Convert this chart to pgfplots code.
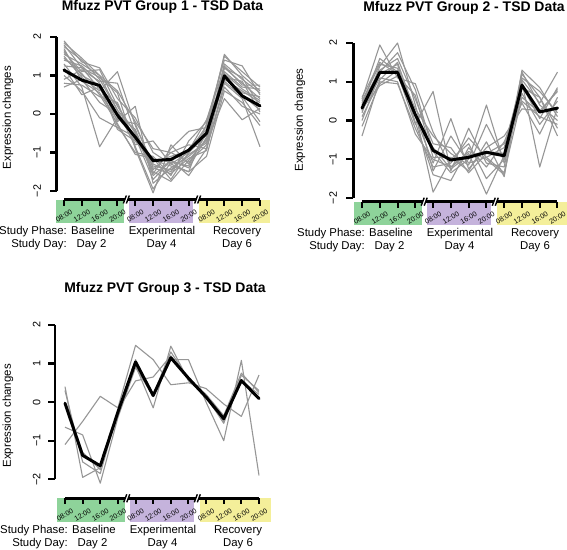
\documentclass[border=0pt]{standalone}
\usepackage{fontspec}
\setmainfont{Liberation Sans}
\usepackage{pgfplots}
\usepackage{pgfplotstable}
\pgfplotsset{compat=1.18}
\definecolor{bgreen}{RGB}{142,211,154}
\definecolor{bpurple}{RGB}{197,179,220}
\definecolor{byellow}{RGB}{244,239,154}
\definecolor{lgray}{RGB}{150,150,150}

\pgfplotstableread{
t L1 L2 L3 L4 L5 L6 L7 L8 L9 L10 L11 L12 L13 L14 L15 L16 L17 L18 M
0 1.90 1.75 1.60 1.50 1.40 1.30 1.80 1.20 0.80 1.65 0.70 1.55 1.00 1.85 1.45 0.90 1.70 1.25 1.14
1 1.35 1.40 1.10 0.95 1.25 0.70 1.20 0.50 0.75 1.00 0.90 1.30 0.60 1.45 1.05 1.15 0.85 1.20 0.88
2 1.20 0.90 1.15 0.60 0.80 -0.85 0.95 0.70 0.45 0.75 0.30 1.00 -0.10 1.00 0.50 0.85 0.55 0.65 0.74
3 0.40 0.10 0.20 1.10 -0.20 -0.10 0.55 -0.30 0.30 -0.40 0.00 0.60 -0.35 0.10 -0.25 0.80 -0.15 0.25 -0.03
4 -0.10 -0.45 -0.50 -0.30 0.20 -0.60 -0.90 -1.00 -0.80 -0.70 -0.40 -0.20 -0.60 -0.85 -1.05 -0.50 -0.25 -0.70 -0.60
5 -1.00 -1.60 -1.45 -1.30 -1.80 -1.70 -2.05 -1.10 -0.70 -1.25 -1.50 -0.90 -1.35 -1.95 -1.15 -1.55 -1.40 -1.20 -1.21
6 -1.30 -1.20 -1.00 -1.50 -1.40 -1.20 -0.80 -1.60 -1.30 -1.10 -1.75 -1.00 -1.45 -1.25 -1.70 -0.90 -1.55 -1.35 -1.18
7 -1.00 -1.40 -1.25 -0.90 -1.10 -1.60 -1.30 -0.70 -1.50 -0.95 -1.20 -0.80 -1.05 -1.35 -1.00 -0.45 -1.15 -1.50 -0.94
8 -0.30 -0.60 -0.80 -0.40 -0.70 -0.90 -0.50 -0.20 -1.10 -0.15 -0.65 -0.90 -0.75 -0.45 -0.55 -0.35 -0.95 -0.25 -0.50
9 1.50 1.30 1.20 1.10 0.90 0.80 1.00 1.40 0.60 1.20 0.95 0.70 0.40 1.55 1.05 0.85 1.25 0.95 0.99
10 1.10 0.90 0.80 0.70 0.60 0.40 0.50 1.25 0.30 0.95 0.55 0.20 -0.15 1.00 0.65 0.45 0.75 0.85 0.47
11 0.70 0.55 0.40 0.65 0.30 -0.85 0.10 0.50 -0.30 0.20 0.45 0.00 0.15 0.60 0.35 -0.20 0.75 0.05 0.21
}\groupone

\pgfplotstableread{
t L1 L2 L3 L4 L5 L6 L7 L8 L9 L10 L11 L12 L13 M
0 0.55 0.20 -0.40 0.60 0.35 -0.15 0.25 0.45 0.10 0.50 0.00 0.30 0.40 0.32
1 1.95 1.40 1.05 1.50 1.25 0.95 1.10 1.30 1.00 1.45 1.20 0.90 1.60 1.24
2 1.10 2.00 1.50 1.20 1.75 1.30 1.00 1.60 0.95 1.35 1.45 1.15 1.25 1.24
3 0.95 0.40 0.20 -0.10 0.80 0.10 -0.35 0.55 -0.20 0.30 -0.05 0.65 0.15 0.15
4 -0.30 -1.30 -1.85 0.75 -0.80 -1.10 -1.00 -0.60 -1.20 -0.40 -1.40 -0.95 -0.70 -0.77
5 -1.20 -0.40 -1.00 -1.30 -1.35 0.05 -1.20 -0.70 -1.10 -0.85 -1.55 -0.95 -1.25 -1.02
6 -0.80 -1.10 -0.60 -0.20 -1.00 -1.25 -0.85 -1.35 -0.45 -1.15 -0.70 -1.30 -0.90 -0.95
7 -1.00 -0.95 -1.50 -1.10 0.40 -0.70 -1.90 -0.85 -0.95 -0.10 -1.20 -0.55 -0.80 -0.82
8 -1.40 -0.70 -1.00 -1.20 -1.10 -0.40 -0.90 -0.60 -1.35 -1.00 -0.55 -1.45 -0.85 -0.91
9 1.30 1.05 0.90 1.20 0.70 0.30 1.00 0.85 0.60 1.25 0.45 1.10 0.50 0.91
10 0.85 0.45 0.05 0.60 -0.10 0.25 -1.20 0.60 0.20 0.40 -0.35 0.75 0.10 0.22
11 0.10 1.25 0.85 -0.20 0.50 0.75 0.35 -0.40 0.80 0.00 0.60 0.20 -0.10 0.32
}\grouptwo

\pgfplotstableread{
t L1 L2 L3 L4 L5 M
0 0.40 0.30 -0.65 -1.10 0.00 -0.03
1 -1.95 -1.55 -0.85 -0.50 -1.30 -1.38
2 -1.70 -1.85 -2.10 0.15 -1.75 -1.65
3 -0.30 -0.25 -0.40 -0.15 -0.20 -0.26
4 0.95 1.10 0.90 1.47 0.55 1.04
5 -0.15 0.20 0.15 1.10 0.65 0.17
6 1.45 1.30 1.10 0.45 1.20 1.15
7 0.55 0.60 1.10 0.50 0.60 0.62
8 0.15 0.10 0.00 0.35 0.20 0.13
9 -0.55 -0.50 -1.00 -0.05 -0.35 -0.43
10 0.70 0.55 1.08 -0.37 0.75 0.56
11 0.30 0.20 -1.90 0.70 0.25 0.09
}\groupthree

\pgfplotsset{
  panel/.style={scale only axis, anchor=south west, xmin=0, xmax=11, ymin=-2, ymax=2,
    hide axis, clip=false},
  gline/.style={lgray, line width=1.1bp, line join=round},
  mline/.style={black, line width=3bp, line join=round, line cap=round},
}

% x-axis decoration: #1 x0 px, #2 axis line y px, #3 px per step
\newcommand{\xdecor}[3]{%
\begin{scope}[shift={(#1,#2)}]
  \fill[bgreen] (-8,0) rectangle (60,23.5);
  \fill[bpurple] (65,0) rectangle (129,23.5);
  \fill[byellow] (135,0) rectangle (206,23.5);
  \draw[line width=2.7bp] (0,0) -- ({11*#3},0);
  \foreach \k in {0,...,11} \draw[line width=2bp] ({\k*#3},0) -- ({\k*#3},6);
  \foreach \b in {3.5,7.5} {
    \fill[white] ({\b*#3-3},4) -- ({\b*#3},-4) -- ({\b*#3+3},-4) -- ({\b*#3},4) -- cycle;
    \draw[line width=1.4bp] ({\b*#3-3},4) -- ({\b*#3},-4);
    \draw[line width=1.4bp] ({\b*#3},4) -- ({\b*#3+3},-4);
  }
  \foreach \k/\lab in {0/08:00,1/12:00,2/16:00,3/20:00,4/08:00,5/12:00,6/16:00,7/20:00,8/08:00,9/12:00,10/16:00,11/20:00}
    \node[rotate=30, inner sep=0pt, font=\fontsize{7.1}{8}\selectfont] at ({\k*#3},16.5) {\lab};
  \node[anchor=base east, inner sep=0pt] at (3,35) {Study Phase:};
  \node[anchor=base, inner sep=0pt] at (29,35) {Baseline};
  \node[anchor=base, inner sep=0pt] at (98,35) {Experimental};
  \node[anchor=base, inner sep=0pt] at (173,35) {Recovery};
  \node[anchor=base east, inner sep=0pt] at (3,48) {Study Day:};
  \node[anchor=base, inner sep=0pt] at (27.5,48) {Day 2};
  \node[anchor=base, inner sep=0pt] at (97.5,48) {Day 4};
  \node[anchor=base, inner sep=0pt] at (173,48) {Day 6};
\end{scope}}

% y-axis decoration: #1 axis x px, #2 px y of -2, #3 px per unit, #4 label x px
\newcommand{\ydecor}[4]{%
  \draw[line width=2.7bp] (#1,#2) -- (#1,{#2-4*#3});
  \foreach \v/\lab in {0/−2,1/−1,2/0,3/1,4/2} {
    \draw[line width=2.3bp] (#1,{#2-\v*#3}) -- ({#1-7},{#2-\v*#3});
    \node[rotate=90, inner sep=0pt, font=\fontsize{10.8}{12}\selectfont] at (#4,{#2-\v*#3}) {\lab};
  }}

\begin{document}
\begin{tikzpicture}
\useasboundingbox (0,0) rectangle (567bp,-550bp);

% ---------- Panel 1 ----------
\begin{axis}[panel, at={(64bp,-191bp)}, width=196bp, height=154bp]
\pgfplotsinvokeforeach{1,...,18}{\addplot[gline] table[x=t,y=L#1]{\groupone};}
\addplot[mline] table[x=t,y=M]{\groupone};
\end{axis}

% ---------- Panel 2 ----------
\begin{axis}[panel, at={(362bp,-198bp)}, width=195.5bp, height=155bp]
\pgfplotsinvokeforeach{1,...,13}{\addplot[gline] table[x=t,y=L#1]{\grouptwo};}
\addplot[mline] table[x=t,y=M]{\grouptwo};
\end{axis}

% ---------- Panel 3 ----------
\begin{axis}[panel, at={(65bp,-479.3bp)}, width=194bp, height=154.4bp]
\pgfplotsinvokeforeach{1,...,5}{\addplot[gline] table[x=t,y=L#1]{\groupthree};}
\addplot[mline] table[x=t,y=M]{\groupthree};
\end{axis}

\begin{scope}[x=1bp, y=-1bp, font=\fontsize{11.4}{13}\selectfont]
  % titles
  \node[anchor=base, inner sep=0pt, font=\fontsize{14}{16}\selectfont\bfseries] at (162.5,10.7) {Mfuzz PVT Group 1 - TSD Data};
  \node[anchor=base, inner sep=0pt, font=\fontsize{14}{16}\selectfont\bfseries] at (464,11.5) {Mfuzz PVT Group 2 - TSD Data};
  \node[anchor=base, inner sep=0pt, font=\fontsize{14}{16}\selectfont\bfseries] at (165,292.7) {Mfuzz PVT Group 3 - TSD Data};
  % y labels
  \node[rotate=90, inner sep=0pt, font=\fontsize{11.5}{13}\selectfont] at (8,117.5) {Expression changes};
  \node[rotate=90, inner sep=0pt, font=\fontsize{11.5}{13}\selectfont] at (300,120) {Expression changes};
  \node[rotate=90, inner sep=0pt, font=\fontsize{11.5}{13}\selectfont] at (8,415.8) {Expression changes};
  % axes
  \ydecor{56.7}{191}{38.5}{37}
  \ydecor{353.3}{198}{38.75}{333}
  \ydecor{55}{479.3}{38.6}{36.7}
  \xdecor{64}{199.5}{17.82}
  \xdecor{362}{201.7}{17.77}
  \xdecor{65}{498.3}{17.64}
\end{scope}
\end{tikzpicture}
\end{document}
